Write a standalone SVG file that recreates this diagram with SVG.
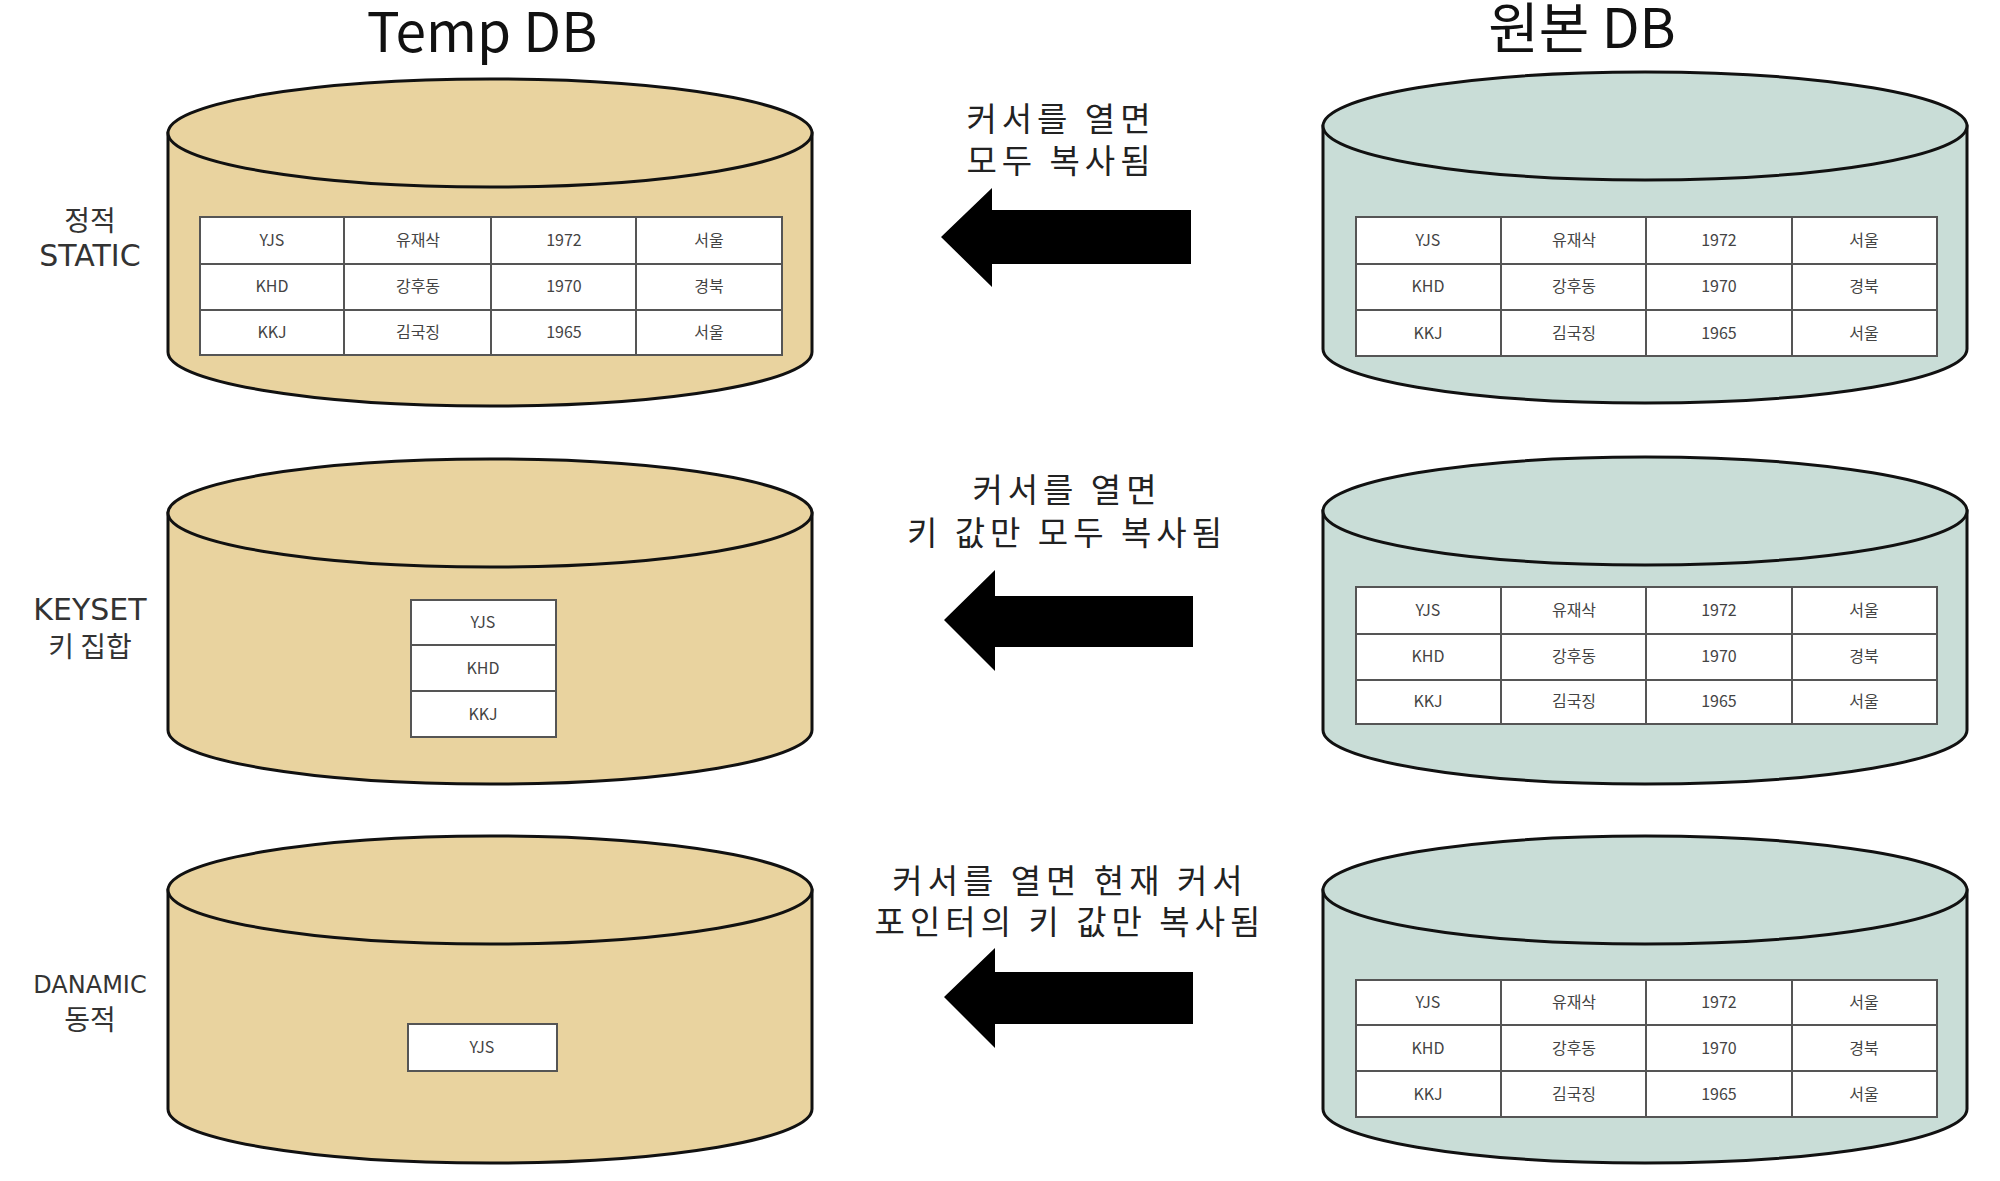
<svg xmlns="http://www.w3.org/2000/svg" width="2000" height="1181" viewBox="0 0 2000 1181">
<style>
text{font-family:"Noto Sans CJK KR","Noto Sans",sans-serif;text-anchor:middle}
.title{font-size:55px;fill:#111}
.lbl{font-family:"DejaVu Sans","Noto Sans CJK KR",sans-serif;font-size:30px;fill:#333}
.lblk{font-size:28px;fill:#333}
.lbls{font-family:"DejaVu Sans","Noto Sans CJK KR",sans-serif;font-size:24px;fill:#333}
.cap{font-size:33px;fill:#222;letter-spacing:5px}
.cell{font-size:16px;fill:#444;font-family:"Liberation Sans Narrow","Noto Sans CJK KR",sans-serif}
.tan{fill:#E9D39F;stroke:#111;stroke-width:3}
.teal{fill:#C9DDD7;stroke:#111;stroke-width:3}
.tb{fill:#fff;stroke:#555;stroke-width:2}
.ln{stroke:#555;stroke-width:2;fill:none}
.arrow{fill:#000}
</style>

<text class="title" x="482" y="52">Temp DB</text>
<text class="title" x="1582" y="48">원본 DB</text>

<g id="temp-static">
<path class="tan" d="M168,133 L168,352 A322,54 0 0 0 812,352 L812,133 Z"/>
<ellipse class="tan" cx="490" cy="133" rx="322" ry="54"/>
<rect class="tb" x="200" y="217" width="582" height="138"/>
<path class="ln" d="M200,264H782M200,310H782M344,217V355M491,217V355M636,217V355"/>
<text class="cell" x="272" y="246">YJS</text><text class="cell" x="418" y="246">유재삭</text><text class="cell" x="564" y="246">1972</text><text class="cell" x="709" y="246">서울</text>
<text class="cell" x="272" y="292">KHD</text><text class="cell" x="418" y="292">강후동</text><text class="cell" x="564" y="292">1970</text><text class="cell" x="709" y="292">경북</text>
<text class="cell" x="272" y="338">KKJ</text><text class="cell" x="418" y="338">김국징</text><text class="cell" x="564" y="338">1965</text><text class="cell" x="709" y="338">서울</text>
<text class="lblk" x="90" y="231">정적</text>
<text class="lbl" x="90" y="266">STATIC</text>
</g>

<g id="temp-keyset">
<path class="tan" d="M168,513 L168,730 A322,54 0 0 0 812,730 L812,513 Z"/>
<ellipse class="tan" cx="490" cy="513" rx="322" ry="54"/>
<rect class="tb" x="411" y="600" width="145" height="137"/>
<path class="ln" d="M411,645H556M411,691H556"/>
<text class="cell" x="483" y="628">YJS</text>
<text class="cell" x="483" y="674">KHD</text>
<text class="cell" x="483" y="720">KKJ</text>
<text class="lbl" x="90" y="620">KEYSET</text>
<text class="lblk" x="90" y="657">키 집합</text>
</g>

<g id="temp-dynamic">
<path class="tan" d="M168,890 L168,1109 A322,54 0 0 0 812,1109 L812,890 Z"/>
<ellipse class="tan" cx="490" cy="890" rx="322" ry="54"/>
<rect class="tb" x="408" y="1024" width="149" height="47"/>
<text class="cell" x="482" y="1053">YJS</text>
<text class="lbls" x="90" y="993">DANAMIC</text>
<text class="lblk" x="90" y="1030">동적</text>
</g>

<g id="orig-1">
<path class="teal" d="M1323,126 L1323,349 A322,54 0 0 0 1967,349 L1967,126 Z"/>
<ellipse class="teal" cx="1645" cy="126" rx="322" ry="54"/>
<rect class="tb" x="1356" y="217" width="581" height="139"/>
<path class="ln" d="M1356,264H1937M1356,310H1937M1501,217V356M1646,217V356M1792,217V356"/>
<text class="cell" x="1428" y="246">YJS</text><text class="cell" x="1574" y="246">유재삭</text><text class="cell" x="1719" y="246">1972</text><text class="cell" x="1864" y="246">서울</text>
<text class="cell" x="1428" y="292">KHD</text><text class="cell" x="1574" y="292">강후동</text><text class="cell" x="1719" y="292">1970</text><text class="cell" x="1864" y="292">경북</text>
<text class="cell" x="1428" y="339">KKJ</text><text class="cell" x="1574" y="339">김국징</text><text class="cell" x="1719" y="339">1965</text><text class="cell" x="1864" y="339">서울</text>
</g>

<g id="orig-2">
<path class="teal" d="M1323,511 L1323,730 A322,54 0 0 0 1967,730 L1967,511 Z"/>
<ellipse class="teal" cx="1645" cy="511" rx="322" ry="54"/>
<rect class="tb" x="1356" y="587" width="581" height="137"/>
<path class="ln" d="M1356,634H1937M1356,680H1937M1501,587V724M1646,587V724M1792,587V724"/>
<text class="cell" x="1428" y="616">YJS</text><text class="cell" x="1574" y="616">유재삭</text><text class="cell" x="1719" y="616">1972</text><text class="cell" x="1864" y="616">서울</text>
<text class="cell" x="1428" y="662">KHD</text><text class="cell" x="1574" y="662">강후동</text><text class="cell" x="1719" y="662">1970</text><text class="cell" x="1864" y="662">경북</text>
<text class="cell" x="1428" y="707">KKJ</text><text class="cell" x="1574" y="707">김국징</text><text class="cell" x="1719" y="707">1965</text><text class="cell" x="1864" y="707">서울</text>
</g>

<g id="orig-3">
<path class="teal" d="M1323,890 L1323,1109 A322,54 0 0 0 1967,1109 L1967,890 Z"/>
<ellipse class="teal" cx="1645" cy="890" rx="322" ry="54"/>
<rect class="tb" x="1356" y="980" width="581" height="137"/>
<path class="ln" d="M1356,1025H1937M1356,1071H1937M1501,980V1117M1646,980V1117M1792,980V1117"/>
<text class="cell" x="1428" y="1008">YJS</text><text class="cell" x="1574" y="1008">유재삭</text><text class="cell" x="1719" y="1008">1972</text><text class="cell" x="1864" y="1008">서울</text>
<text class="cell" x="1428" y="1054">KHD</text><text class="cell" x="1574" y="1054">강후동</text><text class="cell" x="1719" y="1054">1970</text><text class="cell" x="1864" y="1054">경북</text>
<text class="cell" x="1428" y="1100">KKJ</text><text class="cell" x="1574" y="1100">김국징</text><text class="cell" x="1719" y="1100">1965</text><text class="cell" x="1864" y="1100">서울</text>
</g>

<g id="connectors">
<polygon class="arrow" points="941,237 992,188 992,210 1191,210 1191,264 992,264 992,287"/>
<polygon class="arrow" points="944,620 995,570 995,596 1193,596 1193,647 995,647 995,671"/>
<polygon class="arrow" points="944,997 995,948 995,972 1193,972 1193,1024 995,1024 995,1048"/>
<text class="cap" x="1061" y="131">커서를 열면</text>
<text class="cap" x="1061" y="173">모두 복사됨</text>
<text class="cap" x="1067" y="502">커서를 열면</text>
<text class="cap" x="1067" y="545">키 값만 모두 복사됨</text>
<text class="cap" x="1070" y="893">커서를 열면 현재 커서</text>
<text class="cap" x="1070" y="934">포인터의 키 값만 복사됨</text>
</g>
</svg>
